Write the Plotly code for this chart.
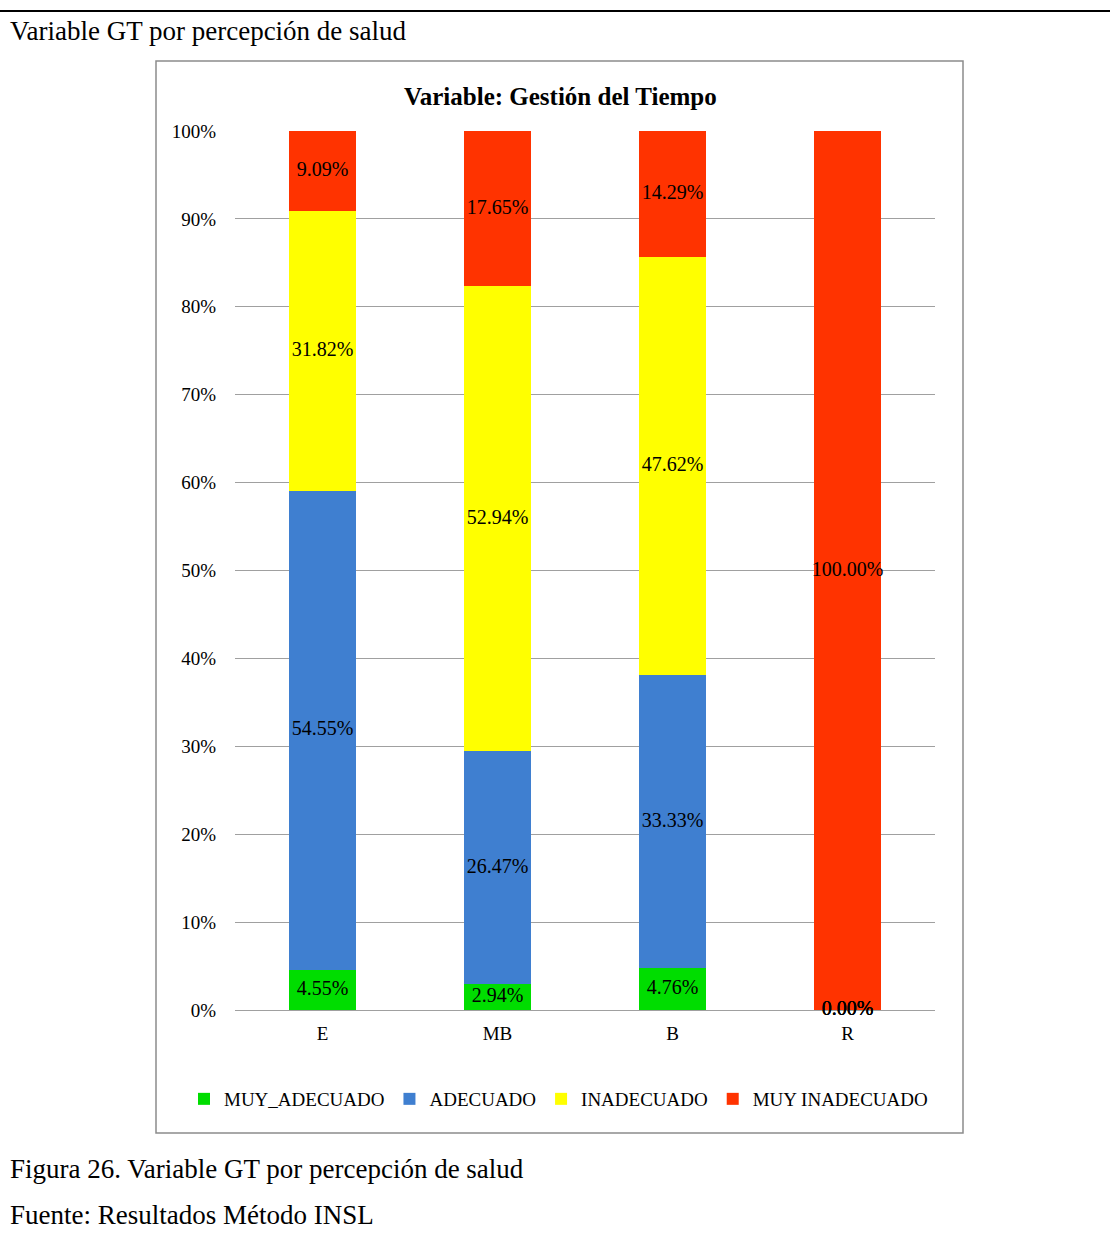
import plotly.graph_objects as go

# Categories (self-rated health) and the share of each time-management level
categories = ["E", "MB", "B", "R"]
series_names = ["MUY_ADECUADO", "ADECUADO", "INADECUADO", "MUY INADECUADO"]
muy_adecuado = [4.55, 2.94, 4.76, 0.00]
adecuado = [54.55, 26.47, 33.33, 0.00]
inadecuado = [31.82, 52.94, 47.62, 0.00]
muy_inadecuado = [9.09, 17.65, 14.29, 100.00]
y_ticks = [0, 10, 20, 30, 40, 50, 60, 70, 80, 90, 100]
y_tick_labels = ["0%", "10%", "20%", "30%", "40%", "50%", "60%", "70%", "80%", "90%", "100%"]

series_values = [muy_adecuado, adecuado, inadecuado, muy_inadecuado]
colors = ["#00DD00", "#3F7FD0", "#FFFF00", "#FF3300"]

W, H = 1110, 1236
L, R, T, B = 235, 175, 131, 226
PW, PH = W - L - R, H - T - B
FONT = "Liberation Serif, Times New Roman, serif"


def px_x(x):
    return (x - L) / PW


def px_y(y):
    return (H - B - y) / PH


fig = go.Figure()

for name, vals, col in zip(series_names, series_values, colors):
    fig.add_trace(go.Bar(
        x=categories, y=vals, name=name,
        marker=dict(color=col, line=dict(width=0)),
        hoverinfo="skip",
    ))

# Value labels centred in each stacked segment
base = [0.0] * len(categories)
for vals in series_values:
    mids = [b + v / 2 for b, v in zip(base, vals)]
    fig.add_trace(go.Scatter(
        x=categories, y=mids, mode="text",
        text=[f"{v:.2f}%" for v in vals],
        textposition="middle center",
        textfont=dict(family=FONT, size=20, color="black"),
        cliponaxis=False,
        showlegend=False, hoverinfo="skip",
    ))
    base = [b + v for b, v in zip(base, vals)]

shapes = [
    # chart frame
    dict(type="rect", xref="paper", yref="paper",
         x0=px_x(156), x1=px_x(963), y0=px_y(1133), y1=px_y(61),
         line=dict(color="#8C8C8C", width=1.5), layer="below"),
    # page rule
    dict(type="line", xref="paper", yref="paper",
         x0=px_x(0), x1=px_x(W), y0=px_y(11), y1=px_y(11),
         line=dict(color="black", width=2)),
]

annotations = [
    dict(text="Variable GT por percepción de salud", xref="paper", yref="paper",
         x=px_x(8), y=px_y(31), xanchor="left", yanchor="middle", showarrow=False,
         font=dict(family=FONT, size=27, color="black")),
    dict(text="<b>Variable: Gestión del Tiempo</b>", xref="paper", yref="paper",
         x=px_x(560), y=px_y(96), xanchor="center", yanchor="middle", showarrow=False,
         font=dict(family=FONT, size=25, color="black")),
    dict(text="Figura 26. Variable GT por percepción de salud", xref="paper", yref="paper",
         x=px_x(8), y=px_y(1169), xanchor="left", yanchor="middle", showarrow=False,
         font=dict(family=FONT, size=27, color="black")),
    dict(text="Fuente: Resultados Método INSL", xref="paper", yref="paper",
         x=px_x(8), y=px_y(1215), xanchor="left", yanchor="middle", showarrow=False,
         font=dict(family=FONT, size=27, color="black")),
]

fig.update_layout(
    width=W, height=H,
    margin=dict(l=L, r=R, t=T, b=B),
    barmode="stack", bargap=0.62,
    paper_bgcolor="white", plot_bgcolor="white",
    font=dict(family=FONT, size=19, color="black"),
    shapes=shapes, annotations=annotations,
    legend=dict(orientation="h", x=px_x(184), y=px_y(1099),
                xanchor="left", yanchor="middle",
                font=dict(family=FONT, size=19, color="black"),
                itemwidth=30, tracegroupgap=0, traceorder="normal"),
    xaxis=dict(showgrid=False, showline=False, zeroline=False, ticks="",
               ticklabelstandoff=10, tickfont=dict(family=FONT, size=19)),
    yaxis=dict(range=[0, 100], tickmode="array", tickvals=y_ticks,
               ticktext=y_tick_labels,
               showgrid=True, gridcolor="#A0A0A0", gridwidth=1,
               zeroline=True, zerolinecolor="#A0A0A0", zerolinewidth=1,
               showline=False, ticks="", ticklabelstandoff=18,
               tickfont=dict(family=FONT, size=19)),
)

fig.write_html("out.html")
